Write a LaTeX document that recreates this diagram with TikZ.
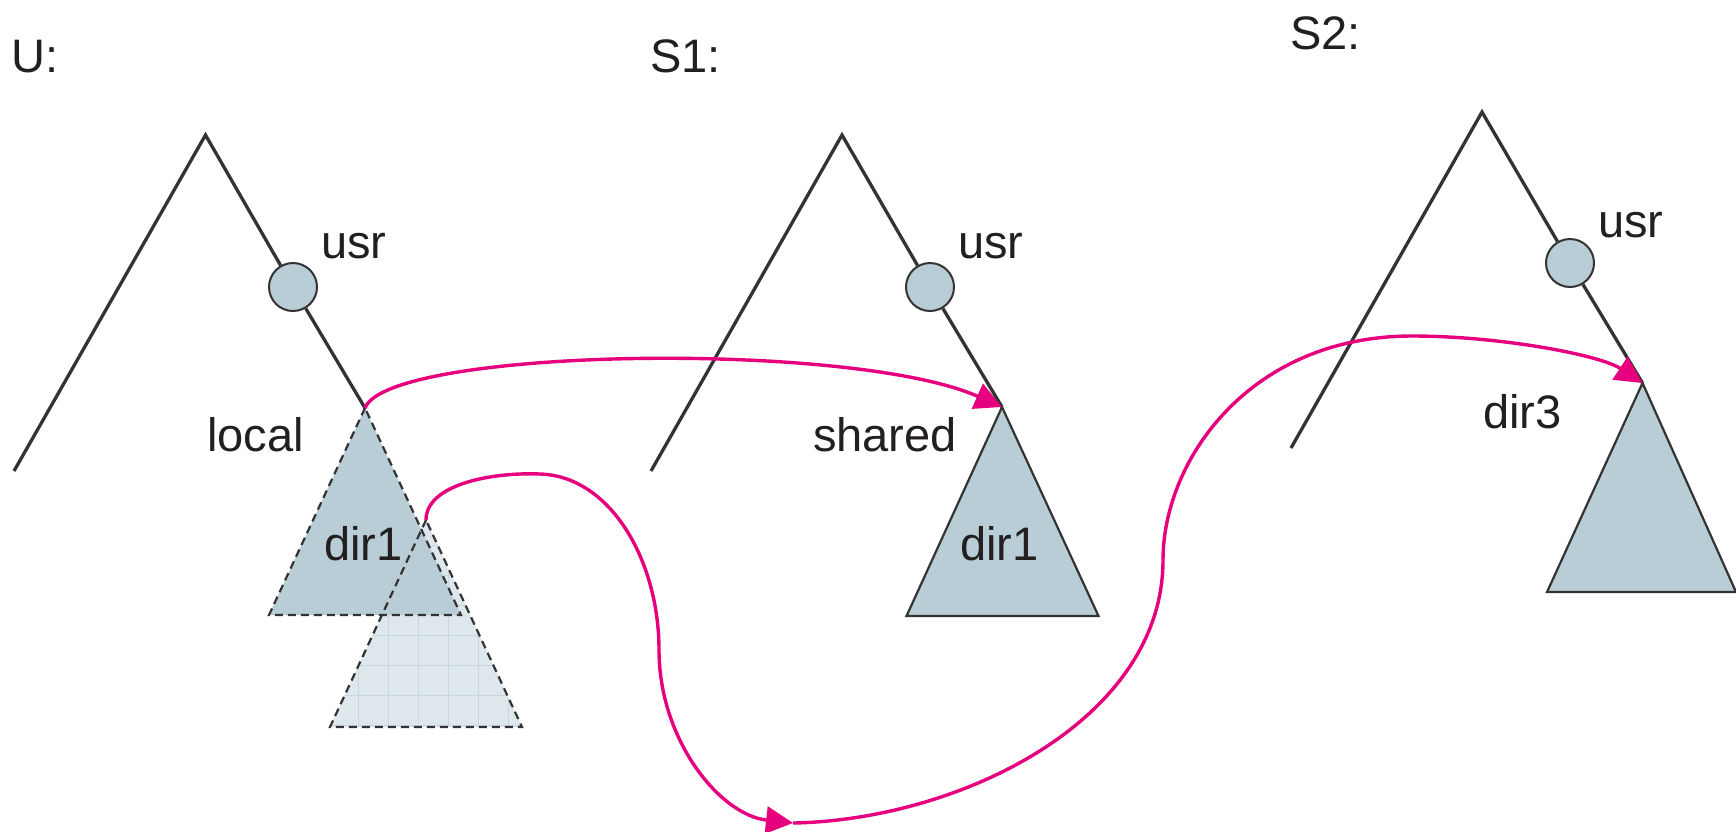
\documentclass[tikz,border=0pt]{standalone}
\usepackage{fontspec}
\setmainfont{Liberation Sans}
\usetikzlibrary{arrows.meta}
\definecolor{treeline}{HTML}{333333}
\definecolor{dirfill}{HTML}{B8CDD6}
\definecolor{lightfill}{HTML}{DDE7EC}
\definecolor{gridc}{HTML}{C6D7DF}
\definecolor{mag}{HTML}{E6007E}
\definecolor{txt}{HTML}{231F20}
\begin{document}
\begin{tikzpicture}[x=1pt,y=-1pt,
  treeln/.style={draw=treeline,line width=3.3pt},
  usrnode/.style={circle,draw=treeline,line width=2pt,fill=dirfill,minimum size=48pt,inner sep=0pt},
  lbl/.style={anchor=base west,inner sep=0pt,text=txt,font=\fontsize{47}{56}\selectfont},
  solidtri/.style={draw=treeline,line width=2.2pt,fill=dirfill,line join=miter},
  dashtri/.style={draw=treeline,line width=2.2pt,dash pattern=on 8pt off 5pt},
  link/.style={draw=mag,line width=3.4pt,-{Triangle[length=27pt,width=27pt]}},
]
\useasboundingbox (0,0) rectangle (1736,831);

% ---------- coordinates ----------
\coordinate (apexU) at (205.5,135);
\coordinate (leafU) at (14,471);
\coordinate (dirU) at (365,408);
\coordinate (dirUL) at (269,615);
\coordinate (dirUR) at (461,615);
\coordinate (copyA) at (426,520);
\coordinate (copyL) at (330,727);
\coordinate (copyR) at (522,727);

\coordinate (apexS1) at (842,135);
\coordinate (leafS1) at (651,471);
\coordinate (dirS1) at (1002,407);
\coordinate (dirS1L) at (906.5,616);
\coordinate (dirS1R) at (1098.5,616);

\coordinate (apexS2) at (1482,112);
\coordinate (leafS2) at (1291,448);
\coordinate (dirS2) at (1642.5,383);
\coordinate (dirS2L) at (1547,592);
\coordinate (dirS2R) at (1736,592);

\coordinate (via) at (793,823);

% ---------- circles ----------
\node[usrnode] (usrU) at (293,287) {};
\node[usrnode] (usrS1) at (930,287) {};
\node[usrnode] (usrS2) at (1570,263) {};

% ---------- tree lines ----------
\draw[treeln] (leafU) -- (apexU) -- (usrU) -- (dirU);
\draw[treeln] (leafS1) -- (apexS1) -- (usrS1) -- (dirS1);
\draw[treeln] (leafS2) -- (apexS2) -- (usrS2) -- (dirS2);

% ---------- U subtrees ----------
\fill[lightfill] (copyA) -- (copyL) -- (copyR) -- cycle;
\begin{scope}
  \clip (copyA) -- (copyL) -- (copyR) -- cycle;
  \foreach \gx in {328,358,388,418,448,478,508}
    \draw[gridc,line width=0.8pt] (\gx,500) -- (\gx,740);
  \foreach \gy in {545,575,605,635,665,695,725}
    \draw[gridc,line width=0.8pt] (320,\gy) -- (530,\gy);
\end{scope}
\fill[dirfill] (dirU) -- (dirUL) -- (dirUR) -- cycle;
\draw[dashtri] (dirU) -- (dirUL) -- (dirUR) -- cycle;
\draw[dashtri] (copyA) -- (copyL) -- (copyR) -- cycle;

% ---------- S1, S2 subtrees ----------
\draw[solidtri] (dirS1) -- (dirS1L) -- (dirS1R) -- cycle;
\draw[solidtri] (dirS2) -- (dirS2L) -- (dirS2R) -- cycle;

% ---------- labels ----------
\node[lbl] (tU) at (11,72) {U:};
\node[lbl] (tS1) at (650,72) {S1:};
\node[lbl] (tS2) at (1290,49) {S2:};
\node[lbl] (uU) at (321,258) {usr};
\node[lbl] (uS1) at (958,258) {usr};
\node[lbl] (uS2) at (1598,237) {usr};
\node[lbl] (local) at (207,451) {local};
\node[lbl] (shared) at (813,451) {shared};
\node[lbl] (d1U) at (324,560) {dir1};
\node[lbl] (d1S1) at (960,560) {dir1};
\node[lbl] (d3) at (1483,428) {dir3};

% ---------- links ----------
\draw[link] (dirU) .. controls (388,348) and (850,340) .. (dirS1);
\draw[link] (copyA) .. controls (426,485) and (490,472) .. (540,474)
  .. controls (610,476) and (659,560) .. (659,650)
  .. controls (659,740) and (720,815) .. (via);
\draw[link] (via) .. controls (960,820) and (1163,720) .. (1163,560)
  .. controls (1163,460) and (1250,336) .. (1412,336)
  .. controls (1500,336) and (1600,355) .. (dirS2);
\end{tikzpicture}
\end{document}
